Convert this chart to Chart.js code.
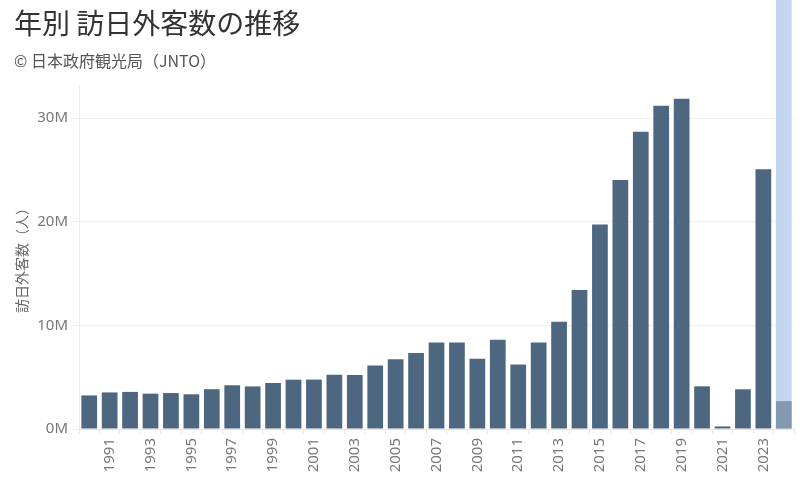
<!DOCTYPE html>
<html lang="ja">
<head>
<meta charset="utf-8">
<script src="https://cdn.jsdelivr.net/npm/chart.js@4.4.1/dist/chart.umd.min.js"></script>
<style>
    html, body { margin: 0; padding: 0; background: #fff; }
    #wrap { position: relative; width: 800px; height: 484px; overflow: hidden; }
    #chart { position: absolute; left: 0; top: 0; }
    .title {
        position: absolute; left: 14px; top: 2px; margin: 0;
        font: 28px "Noto Sans CJK JP", sans-serif; color: #333;
        white-space: nowrap; z-index: 2;
    }
    .subtitle {
        position: absolute; left: 14px; top: 48px; margin: 0;
        font: 16px "Noto Sans CJK JP", sans-serif; color: #555;
        white-space: nowrap; z-index: 2;
    }
</style>
</head>
<body>
<div id="wrap">
    <canvas id="chart" width="800" height="484"></canvas>
    <div class="title">年別 訪日外客数の推移</div>
    <div class="subtitle">© 日本政府観光局（JNTO）</div>
</div>
<script>
// 年
const years = [
    '1990', '1991', '1992', '1993', '1994', '1995', '1996', '1997', '1998', '1999',
    '2000', '2001', '2002', '2003', '2004', '2005', '2006', '2007', '2008', '2009',
    '2010', '2011', '2012', '2013', '2014', '2015', '2016', '2017', '2018', '2019',
    '2020', '2021', '2022', '2023', '2024'
];

// 訪日外客数（百万人）
const visitorsMillions = [
    3.24, 3.53, 3.58, 3.41, 3.47, 3.35, 3.84, 4.22, 4.11, 4.44,
    4.76, 4.77, 5.24, 5.21, 6.14, 6.73, 7.33, 8.35, 8.35, 6.79,
    8.61, 6.22, 8.36, 10.36, 13.41, 19.74, 24.04, 28.69, 31.19, 31.88,
    4.12, 0.25, 3.83, 25.07, 2.69
];

// 選択中の年
const highlightYear = '2024';

const yTicks = [0, 10000000, 20000000, 30000000];

const visitors = visitorsMillions.map(v => v * 1000000);
const highlightIndex = years.indexOf(highlightYear);
const barColors = years.map((y, i) => i === highlightIndex ? '#8499ae' : '#4e6781');

// 選択中の列の背景
const highlightPlugin = {
    id: 'highlightColumn',
    beforeDatasetsDraw(chart) {
        const bar = chart.getDatasetMeta(0).data[highlightIndex];
        if (!bar) return;
        const ctx = chart.ctx;
        ctx.save();
        ctx.fillStyle = '#c3d6ec';
        ctx.fillRect(bar.x - bar.width / 2, 0, bar.width, chart.chartArea.bottom);
        ctx.restore();
    }
};

const tickFont = { family: '"Noto Sans", sans-serif', size: 15 };

new Chart(document.getElementById('chart').getContext('2d'), {
    type: 'bar',
    data: {
        labels: years,
        datasets: [{
            data: visitors,
            backgroundColor: barColors,
            borderWidth: 0,
            barPercentage: 0.77,
            categoryPercentage: 1
        }]
    },
    options: {
        responsive: false,
        animation: false,
        layout: { padding: { top: 85, left: 11, right: 6, bottom: 0 } },
        plugins: {
            legend: { display: false },
            tooltip: { enabled: false }
        },
        scales: {
            x: {
                grid: {
                    offset: true,
                    drawOnChartArea: false,
                    tickLength: 5,
                    color: '#e8e8e8'
                },
                border: { color: '#e8e8e8' },
                ticks: {
                    autoSkip: false,
                    minRotation: 90,
                    maxRotation: 90,
                    padding: 4,
                    color: '#777',
                    font: tickFont,
                    callback: function(value, index) {
                        const y = years[index];
                        return Number(y) % 2 === 1 ? y : '';
                    }
                },
                afterFit: scale => {
                    scale.height = 55;
                    scale.paddingLeft = 0;
                    scale.paddingRight = 0;
                }
            },
            y: {
                min: 0,
                max: 33200000,
                afterBuildTicks: axis => {
                    axis.ticks = yTicks.map(v => ({ value: v }));
                },
                grid: {
                    color: '#efefef',
                    tickLength: 7
                },
                border: { color: '#ececec' },
                ticks: {
                    padding: 4,
                    color: '#777',
                    font: tickFont,
                    callback: value => (value / 1000000) + 'M'
                },
                title: {
                    display: true,
                    text: '訪日外客数（人）',
                    color: '#666',
                    font: { family: '"Noto Sans CJK JP", sans-serif', size: 14 },
                    padding: { top: 2, bottom: 0 }
                },
                afterFit: scale => { scale.width = 68; }
            }
        }
    },
    plugins: [highlightPlugin]
});
</script>
</body>
</html>
